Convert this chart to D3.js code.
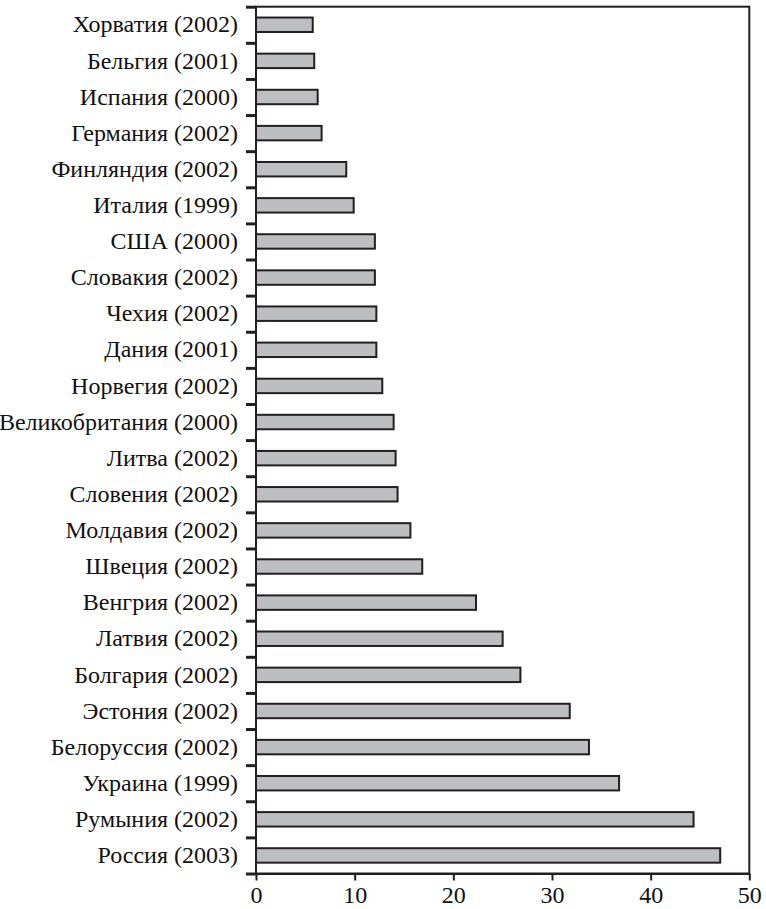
<!DOCTYPE html>
<html>
<head>
<meta charset="utf-8">
<script src="https://cdn.jsdelivr.net/npm/d3@7"></script>
<style>
  html, body { margin: 0; padding: 0; background: #ffffff; }
  svg { display: block; }
  svg text { font-family: "Liberation Serif", "Times New Roman", Times, "DejaVu Serif", serif; }
</style>
</head>
<body>
<svg id="chart" width="766" height="909"></svg>
<script>
const categories = [
  "Хорватия (2002)", "Бельгия (2001)", "Испания (2000)", "Германия (2002)",
  "Финляндия (2002)", "Италия (1999)", "США (2000)", "Словакия (2002)",
  "Чехия (2002)", "Дания (2001)", "Норвегия (2002)", "Великобритания (2000)",
  "Литва (2002)", "Словения (2002)", "Молдавия (2002)", "Швеция (2002)",
  "Венгрия (2002)", "Латвия (2002)", "Болгария (2002)", "Эстония (2002)",
  "Белоруссия (2002)", "Украина (1999)", "Румыния (2002)", "Россия (2003)"
];
const values = [
  5.75, 5.9, 6.25, 6.65,
  9.15, 9.9, 12.05, 12.05,
  12.2, 12.2, 12.8, 13.95,
  14.15, 14.35, 15.65, 16.85,
  22.3, 25.0, 26.8, 31.8,
  33.75, 36.8, 44.35, 47.05
];
const xTicks = [0, 10, 20, 30, 40, 50];

const ink = "#231f20";
const barFill = "#bcbec0";
const font = '"Liberation Serif", "Times New Roman", Times, "DejaVu Serif", serif';

const margin = {top: 6.7, right: 16.7, bottom: 35.5, left: 256};
const W = 766, H = 909;
const x0 = margin.left, x1 = W - margin.right;
const y0 = margin.top, y1 = H - margin.bottom;

const svg = d3.select("#chart");

const x = d3.scaleLinear().domain([0, 50]).range([x0, x1]);
const y = d3.scaleBand().domain(categories).range([y0, y1])
  .paddingInner(0.6).paddingOuter(0.3);
const yEdge = d3.scaleLinear().domain([0, categories.length]).range([y0, y1]);

// bars
svg.append("g").selectAll("rect")
  .data(categories.map((c, i) => ({c, v: values[i]})))
  .join("rect")
  .attr("x", x(0))
  .attr("y", d => y(d.c))
  .attr("width", d => x(d.v) - x(0))
  .attr("height", y.bandwidth())
  .attr("fill", barFill)
  .attr("stroke", ink)
  .attr("stroke-width", 2);

// frame
svg.append("rect")
  .attr("x", x0).attr("y", y0)
  .attr("width", x1 - x0).attr("height", y1 - y0)
  .attr("fill", "none").attr("stroke", ink).attr("stroke-width", 2);

// left boundary ticks
const edgeAxis = svg.append("g")
  .attr("transform", `translate(${x0},0)`)
  .call(d3.axisLeft(yEdge).tickValues(d3.range(0, categories.length + 1))
    .tickSize(10).tickFormat(""));
edgeAxis.select(".domain").remove();
edgeAxis.selectAll(".tick line").attr("stroke", ink).attr("stroke-width", 3);

// category labels
const catAxis = svg.append("g")
  .attr("transform", `translate(${x0},0)`)
  .call(d3.axisLeft(y).tickSize(0).tickPadding(18));
catAxis.attr("font-family", font).attr("font-size", 24);
catAxis.select(".domain").remove();
catAxis.selectAll("text")
  .attr("fill", "#111")
  .attr("font-family", font)
  .attr("font-size", 24);

// x axis
const xAxis = svg.append("g")
  .attr("transform", `translate(0,${y1})`)
  .call(d3.axisBottom(x).tickValues(xTicks).tickSize(7).tickPadding(5).tickSizeOuter(0));
xAxis.attr("font-family", font).attr("font-size", 24);
xAxis.select(".domain").attr("stroke", ink).attr("stroke-width", 2);
xAxis.selectAll(".tick line").attr("stroke", ink).attr("stroke-width", 2);
xAxis.selectAll("text")
  .attr("fill", "#111")
  .attr("font-family", font)
  .attr("font-size", 24);
</script>
</body>
</html>
